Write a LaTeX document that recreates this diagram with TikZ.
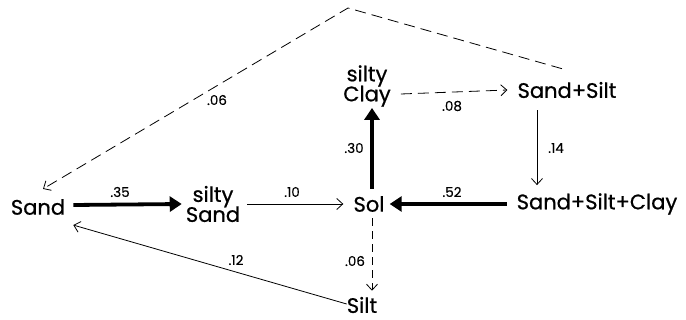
\documentclass[tikz,border=0pt]{standalone}
\usepackage{fontspec}
\setmainfont{Poppins}
\newfontfamily\lblfont{Poppins}[FakeBold=0.7]
\newfontfamily\numfont{Poppins}[FakeBold=0.3]
\usetikzlibrary{arrows.meta}
\begin{document}
\begin{tikzpicture}[x=1pt,y=-1pt,
  lbl/.style={font=\lblfont\fontsize{21}{25}\selectfont, inner sep=0pt, align=center},
  num/.style={font=\numfont\fontsize{13.5}{15}\selectfont, inner sep=0pt},
  thinarr/.style={line width=0.8pt, -{Straight Barb[length=6pt,width=11pt]}},
  thickarr/.style={line width=3.8pt, -{Triangle[length=12pt,width=15pt]}},
  dasharr/.style={line width=0.8pt, dash pattern=on 11pt off 6pt, -{Straight Barb[length=6pt,width=11pt]}},
]
\useasboundingbox (0,0) rectangle (686,320);
\node[lbl] (sand) at (38,207) {Sand};
\node[lbl] (ssand) at (213,204) {silty\\[-5pt]Sand};
\node[lbl] (sol) at (369,204) {Sol};
\node[lbl] (ssc) at (597,204) {Sand+Silt+Clay};
\node[lbl] (sclay) at (367,86) {silty\\[-5pt]Clay};
\node[lbl] (ss) at (567,90) {Sand+Silt};
\node[lbl] (silt) at (362,305) {Silt};
\coordinate (apex) at (348,8);

\draw[thickarr] ([xshift=8pt,yshift=2pt]sand.east) -- ([xshift=-4pt]ssand.west);
\draw[thinarr] ([xshift=7pt]ssand.east) -- ([xshift=-10pt]sol.west);
\draw[thickarr] ([xshift=-10pt]ssc.west) -- ([xshift=5pt]sol.east);
\draw[thickarr] ([xshift=3pt,yshift=7pt]sol.north) -- ([xshift=5pt,yshift=-1pt]sclay.south);
\draw[dasharr] ([xshift=10pt,yshift=-8pt]sclay.east) -- ([xshift=-10pt]ss.west);
\draw[thinarr] ([xshift=-30pt,yshift=-12pt]ss.south) -- ([xshift=-60pt,yshift=8pt]ssc.north);
\draw[dasharr, dash pattern=on 8pt off 5pt] ([xshift=3pt,yshift=-6pt]sol.south) -- ([xshift=10pt,yshift=6pt]silt.north);
\draw[thinarr] ([yshift=1pt]silt.west) -- ([xshift=8pt,yshift=-10pt]sand.south east);
\draw[dasharr] ([xshift=-5pt,yshift=13pt]ss.north) -- (apex) -- ([xshift=5pt,yshift=10pt]sand.north);

\node[num] (n35) at (120,192) {.35};
\node[num] (n10) at (292,192) {.10};
\node[num] (n52) at (452,192) {.52};
\node[num] (n30) at (354,148) {.30};
\node[num] (n08) at (452,106) {.08};
\node[num] (n14) at (556,148) {.14};
\node[num] (n06a) at (355,261) {.06};
\node[num] (n12) at (236,260) {.12};
\node[num] (n06b) at (217,100) {.06};
\end{tikzpicture}
\end{document}
